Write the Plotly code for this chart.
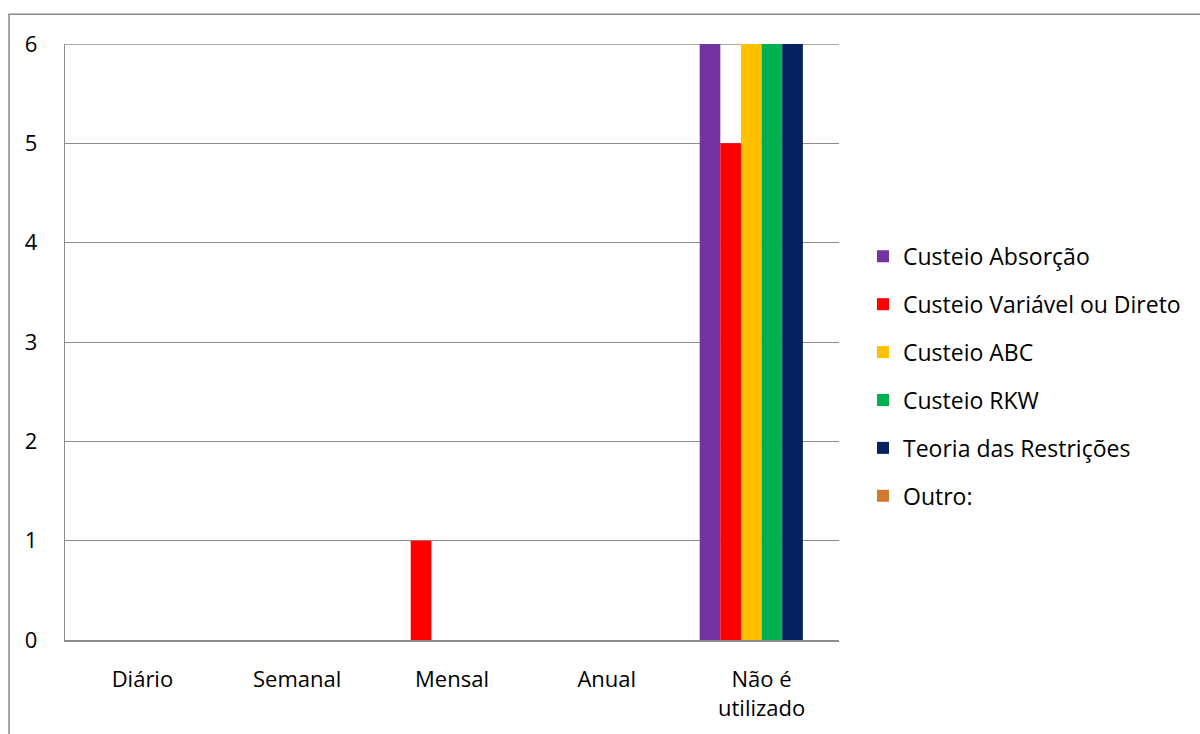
import plotly.graph_objects as go

# Frequência de utilização de cada método de custeio
categorias = ["Diário", "Semanal", "Mensal", "Anual", "Não é<br>utilizado"]

custeio_absorcao = [0, 0, 0, 0, 6]
custeio_variavel = [0, 0, 1, 0, 5]
custeio_abc = [0, 0, 0, 0, 6]
custeio_rkw = [0, 0, 0, 0, 6]
teoria_restricoes = [0, 0, 0, 0, 6]
outro = [0, 0, 0, 0, 0]

series = [
    ("Custeio Absorção", custeio_absorcao, "#7432A3"),
    ("Custeio Variável ou Direto", custeio_variavel, "#FF0000"),
    ("Custeio ABC", custeio_abc, "#FFC000"),
    ("Custeio RKW", custeio_rkw, "#00B050"),
    ("Teoria das Restrições", teoria_restricoes, "#06215F"),
    ("Outro:", outro, "#D0782E"),
]

Y_MAX = 6
FONT = "Open Sans"
GRID = "#8C8C8C"

fig = go.Figure()
for i, (nome, valores, cor) in enumerate(series):
    fig.add_trace(go.Bar(
        name=nome,
        x=categorias,
        y=valores,
        marker=dict(color=cor, line=dict(width=0)),
        legendgroup=f"g{i}",
    ))

# plot area in pixels: x 65..839, y 44..643
W, H = 1200, 734
L, R, T, B = 65, 839, 44, 643

fig.update_layout(
    width=W,
    height=H,
    margin=dict(l=L, r=W - R, t=T, b=H - B, pad=0),
    paper_bgcolor="white",
    plot_bgcolor="white",
    barmode="group",
    bargap=0.2,
    bargroupgap=0,
    font=dict(family=FONT, size=23, color="black"),
    showlegend=True,
    legend=dict(
        x=(863 - L) / (R - L),
        xanchor="left",
        y=(B - 378) / (B - T),
        yanchor="middle",
        font=dict(family=FONT, size=23, color="black"),
        tracegroupgap=15,
        traceorder="grouped",
        bgcolor="rgba(0,0,0,0)",
    ),
    xaxis=dict(
        showgrid=False,
        showline=True,
        linecolor=GRID,
        linewidth=2,
        ticks="",
        tickfont=dict(family=FONT, size=22),
        ticklabelstandoff=19,
    ),
    yaxis=dict(
        range=[0, Y_MAX],
        dtick=1,
        showgrid=True,
        gridcolor=GRID,
        gridwidth=1.3,
        showline=True,
        linecolor=GRID,
        linewidth=1.3,
        ticks="",
        zeroline=False,
        tickfont=dict(family=FONT, size=22),
        ticklabelstandoff=22,
    ),
)

# top gridline at the axis maximum (sits on the plot edge)
fig.add_shape(
    type="line",
    xref="paper", yref="y",
    x0=0, x1=1, y0=Y_MAX, y1=Y_MAX,
    line=dict(color=GRID, width=1.3),
    layer="below",
)

# chart frame around the whole figure
fig.add_shape(
    type="rect",
    xref="paper", yref="paper",
    x0=(9 - L) / (R - L), x1=(1260 - L) / (R - L),
    y0=(B - 790) / (B - T), y1=(B - 14) / (B - T),
    line=dict(color="#888888", width=1.5),
    fillcolor="rgba(0,0,0,0)",
    layer="below",
)

fig.write_html("out.html")
